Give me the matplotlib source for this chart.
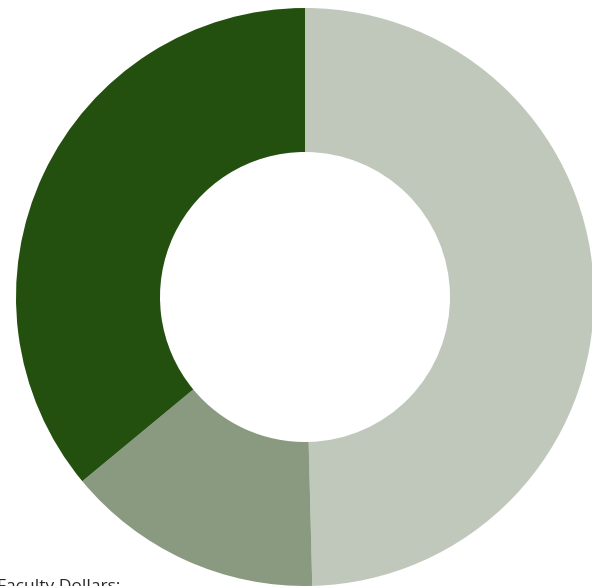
import matplotlib
matplotlib.use("Agg")
import matplotlib.pyplot as plt

# Share of faculty dollars (read clockwise from the top)
labels = ["Segment A", "Segment B", "Segment C"]
shares = [49.6, 14.4, 36.0]
colors = ["#c0c8bc", "#8a9a80", "#23500f"]

fig = plt.figure(figsize=(5.92, 5.86), dpi=100)
ax = fig.add_axes([0, 0, 1, 1])

# donut, drawn in pixel-like data units so it lines up with the reference
ax.pie(shares, colors=colors, startangle=90, counterclock=False,
       center=(305, 289), radius=289,
       wedgeprops=dict(width=144, linewidth=0))

ax.set_xlim(0, 592)
ax.set_ylim(0, 586)
ax.set_aspect("auto")
ax.axis("off")

# caption sits at the bottom edge, partly cropped as in the source image
fig.text(-3 / 592, 7 / 586, "Faculty Dollars:", ha="left", va="top",
         fontsize=12.5, family="Open Sans", color="#2a2a2a")

fig.savefig("out.png", dpi=100)
